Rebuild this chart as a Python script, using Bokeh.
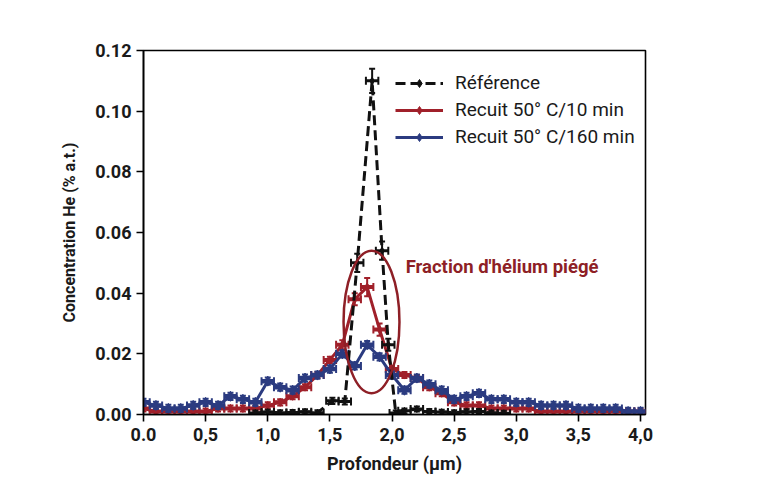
import numpy as np
from bokeh.plotting import figure
from bokeh.models import (ColumnDataSource, Legend, LegendItem, FixedTicker,
                          Label, Range1d, NumeralTickFormatter)
from bokeh.embed import file_html
from bokeh.resources import INLINE

# ---------------- data ----------------
ref_x = [0.9, 1.0, 1.1, 1.2, 1.3, 1.4, 1.52, 1.62, 1.72, 1.84, 1.92, 1.97,
         2.03, 2.1, 2.2, 2.3, 2.4, 2.5, 2.6, 2.7, 2.8, 2.9]
ref_y = [0.0005, 0.0008, 0.0006, 0.0007, 0.0009, 0.0006, 0.0045, 0.0043,
         0.050, 0.110, 0.054, 0.023, 0.0005, 0.0012, 0.0018, 0.0010, 0.0008,
         0.0006, 0.0009, 0.0010, 0.0005, 0.0004]
ref_yerr = [0.0008, 0.0008, 0.0008, 0.0008, 0.0008, 0.0008, 0.0010, 0.0010,
            0.0030, 0.0040, 0.0030, 0.0020, 0.0008, 0.0008, 0.0008, 0.0008,
            0.0008, 0.0008, 0.0008, 0.0008, 0.0008, 0.0008]

depth = [round(0.1 * i, 1) for i in range(41)]
r10_y = [0.002, 0.001, 0.001, 0.001, 0.001, 0.001, 0.002, 0.002, 0.002, 0.002,
         0.003, 0.004, 0.006, 0.009, 0.013, 0.018, 0.023, 0.038, 0.042, 0.028,
         0.015, 0.013, 0.012, 0.009, 0.007, 0.004, 0.003, 0.003, 0.002, 0.002,
         0.002, 0.002, 0.001, 0.001, 0.001, 0.001, 0.001, 0.001, 0.001, 0.001,
         0.001]
r10_yerr = [0.001] * 16 + [0.0015, 0.002, 0.003, 0.002] + [0.001] * 21

r160_y = [0.004, 0.003, 0.002, 0.002, 0.003, 0.004, 0.003, 0.006, 0.005, 0.004,
          0.011, 0.009, 0.008, 0.012, 0.013, 0.015, 0.020, 0.016, 0.023, 0.019,
          0.013, 0.008, 0.012, 0.010, 0.008, 0.005, 0.006, 0.007, 0.005, 0.005,
          0.004, 0.004, 0.003, 0.003, 0.003, 0.002, 0.002, 0.002, 0.002, 0.001,
          0.001]
r160_yerr = [0.0012] * 41

x_err = 0.05

y_ticks = [0.0, 0.02, 0.04, 0.06, 0.08, 0.10, 0.12]
x_ticks = [0.0, 0.5, 1.0, 1.5, 2.0, 2.5, 3.0, 3.5, 4.0]
x_tick_labels = ["0.0", "0,5", "1,0", "1,5", "2,0", "2,5", "3,0", "3,5", "4,0"]

labels = ["Référence", "Recuit 50° C/10 min", "Recuit 50° C/160 min"]
annot_text = "Fraction d'hélium piégé"
# ellipse around the trapped fraction: centre, width, height
ell_x, ell_y, ell_w, ell_h = 1.835, 0.0305, 0.45, 0.047

# ---------------- styling ----------------
FONT = "Roboto"
BLACK = "#111111"
RED = "#a0202a"
BLUE = "#2b3b80"
ELL = "#8e1f26"
TXT = "#1a1a1a"

p = figure(width=770, height=483, output_backend="svg", toolbar_location=None,
           x_range=Range1d(0, 4.04), y_range=Range1d(0, 0.12),
           min_border_left=143, min_border_right=125, min_border_top=50,
           min_border_bottom=69)
p.background_fill_color = "white"
p.border_fill_color = "white"
p.outline_line_color = "black"
p.outline_line_width = 1.6
p.grid.visible = False


def draw_series(xs, ys, yerr, color, width, marker, msize, xw, dash="solid"):
    xs = np.asarray(xs, float)
    ys = np.asarray(ys, float)
    ye = np.asarray(yerr, float)
    src = ColumnDataSource(dict(x=xs, y=ys, ylo=ys - ye, yhi=ys + ye,
                                xlo=xs - x_err, xhi=xs + x_err))
    p.segment(x0="x", y0="ylo", x1="x", y1="yhi", source=src,
              line_color=color, line_width=2)
    p.segment(x0="xlo", y0="y", x1="xhi", y1="y", source=src,
              line_color=color, line_width=xw)
    p.scatter(x="x", y="ylo", source=src, marker="dash", size=6,
              line_color=color, line_width=2)
    p.scatter(x="x", y="yhi", source=src, marker="dash", size=6,
              line_color=color, line_width=2)
    p.scatter(x="xlo", y="y", source=src, marker="dash", size=8, angle=np.pi / 2,
              line_color=color, line_width=2)
    p.scatter(x="xhi", y="y", source=src, marker="dash", size=8, angle=np.pi / 2,
              line_color=color, line_width=2)
    ln = p.line(x="x", y="y", source=src, line_color=color, line_width=width,
                line_dash=dash)
    sc = p.scatter(x="x", y="y", source=src, marker=marker, size=msize,
                   fill_color=color, line_color=color)
    return ln, sc


r_ln, r_sc = draw_series(depth, r10_y, r10_yerr, RED, 3, "diamond", 8, 4)
b_ln, b_sc = draw_series(depth, r160_y, r160_yerr, BLUE, 3, "diamond", 10, 4.5)
k_ln, k_sc = draw_series(ref_x, ref_y, ref_yerr, BLACK, 3, "diamond", 7, 3,
                         dash="10 5")

p.ellipse(x=[ell_x], y=[ell_y], width=[ell_w], height=[ell_h],
          fill_alpha=0, line_color=ELL, line_width=2.5)

p.add_layout(Label(x=2.11, y=0.0485, text=annot_text, text_font=FONT,
                   text_font_size="18.5px", text_font_style="bold",
                   text_color=ELL, text_baseline="middle"))
p.add_layout(Label(x=4.386, y=-0.0162, text="Figure 4", text_font=FONT,
                   text_font_size="15px", text_color="#333333",
                   text_baseline="middle"))

legend = Legend(items=[LegendItem(label=labels[0], renderers=[k_ln, k_sc]),
                       LegendItem(label=labels[1], renderers=[r_ln, r_sc]),
                       LegendItem(label=labels[2], renderers=[b_ln, b_sc])],
                location=(252, 266), padding=0, margin=0, spacing=4,
                glyph_width=48, glyph_height=20, label_height=20,
                label_standoff=12, label_text_font=FONT,
                label_text_font_size="19px", label_text_color=TXT,
                background_fill_alpha=0, border_line_alpha=0)
p.add_layout(legend)

# axes
for ax in (p.xaxis[0], p.yaxis[0]):
    ax.axis_line_width = 1.6
    ax.major_tick_line_width = 1.6
    ax.major_tick_out = 7
    ax.major_tick_in = 0
    ax.minor_tick_line_color = None
    ax.major_label_text_font = FONT
    ax.major_label_text_font_size = "18px"
    ax.major_label_text_font_style = "bold"
    ax.major_label_text_color = TXT
    ax.axis_label_text_font = FONT
    ax.axis_label_text_font_style = "bold"
    ax.axis_label_text_color = TXT

p.yaxis.axis_label_text_font_size = "16px"
p.xaxis.axis_label_text_font_size = "18px"

p.yaxis.ticker = FixedTicker(ticks=y_ticks)
p.yaxis.formatter = NumeralTickFormatter(format="0.00")
p.yaxis.axis_label = "Concentration He (% a.t.)"
p.yaxis.axis_label_standoff = 13
p.yaxis.major_label_standoff = 5

p.xaxis.ticker = FixedTicker(ticks=x_ticks)
p.xaxis.major_label_overrides = {t: s for t, s in zip(x_ticks, x_tick_labels)}
p.xaxis.axis_label = "Profondeur (µm)"
p.xaxis.axis_label_standoff = 9
p.xaxis.major_label_standoff = 6

open("out.html", "w").write(file_html(p, INLINE))
